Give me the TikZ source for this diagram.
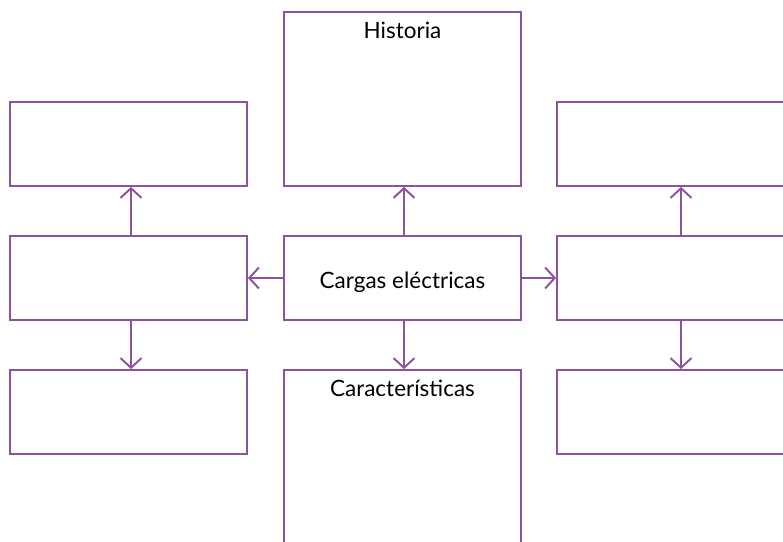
\documentclass[tikz,border=0pt]{standalone}
\usepackage{fontspec}
\setmainfont{Lato}
\usetikzlibrary{arrows.meta}
\definecolor{mapurple}{RGB}{140,82,160}
\tikzset{
  mapbox/.style={draw=mapurple, line width=1.1pt, minimum width=4.74cm, minimum height=1.68cm, inner sep=0pt},
  maplink/.style={draw=mapurple, line width=1.1pt, -{Straight Barb[length=5.5pt, width=12pt, line width=1.1pt]}},
  maptext/.style={font=\fontsize{12.8}{14}\selectfont}
}
\begin{document}
\begin{tikzpicture}[x=0.02cm, y=0.02cm]
\useasboundingbox (0,0) rectangle (783,541);
\clip (0,0) rectangle (783,541);
\node[mapbox, maptext, text height=14.2pt, text depth=2.6pt] (cargas) at (402.5,263) {Cargas eléctricas};
\node[mapbox, minimum height=3.48cm] (hist) at (402.5,442) {};
\node[mapbox, minimum height=4.6cm] (caract) at (402.5,56) {};
\node[maptext, anchor=north] (histtxt) at ([yshift=-0.1cm]hist.north) {Historia};
\node[maptext, anchor=north] (caracttxt) at ([yshift=-0.1cm]caract.north) {Características};
\node[mapbox] (lt) at (128.5,397) {};
\node[mapbox] (lm) at (128.5,263) {};
\node[mapbox] (lb) at (128.5,129) {};
\node[mapbox] (rt) at (675.5,397) {};
\node[mapbox] (rm) at (675.5,263) {};
\node[mapbox] (rb) at (675.5,129) {};
\draw[maplink] ([xshift=0.03cm]cargas.north) -- ([xshift=0.03cm]hist.south);
\draw[maplink] ([xshift=0.03cm]cargas.south) -- ([xshift=0.03cm]caract.north);
\draw[maplink] (cargas.west) -- (lm.east);
\draw[maplink] (cargas.east) -- (rm.west);
\draw[maplink] ([xshift=0.05cm]lm.north) -- ([xshift=0.05cm]lt.south);
\draw[maplink] ([xshift=0.05cm]lm.south) -- ([xshift=0.05cm]lb.north);
\draw[maplink] ([xshift=0.11cm]rm.north) -- ([xshift=0.11cm]rt.south);
\draw[maplink] ([xshift=0.11cm]rm.south) -- ([xshift=0.11cm]rb.north);
\end{tikzpicture}
\end{document}
